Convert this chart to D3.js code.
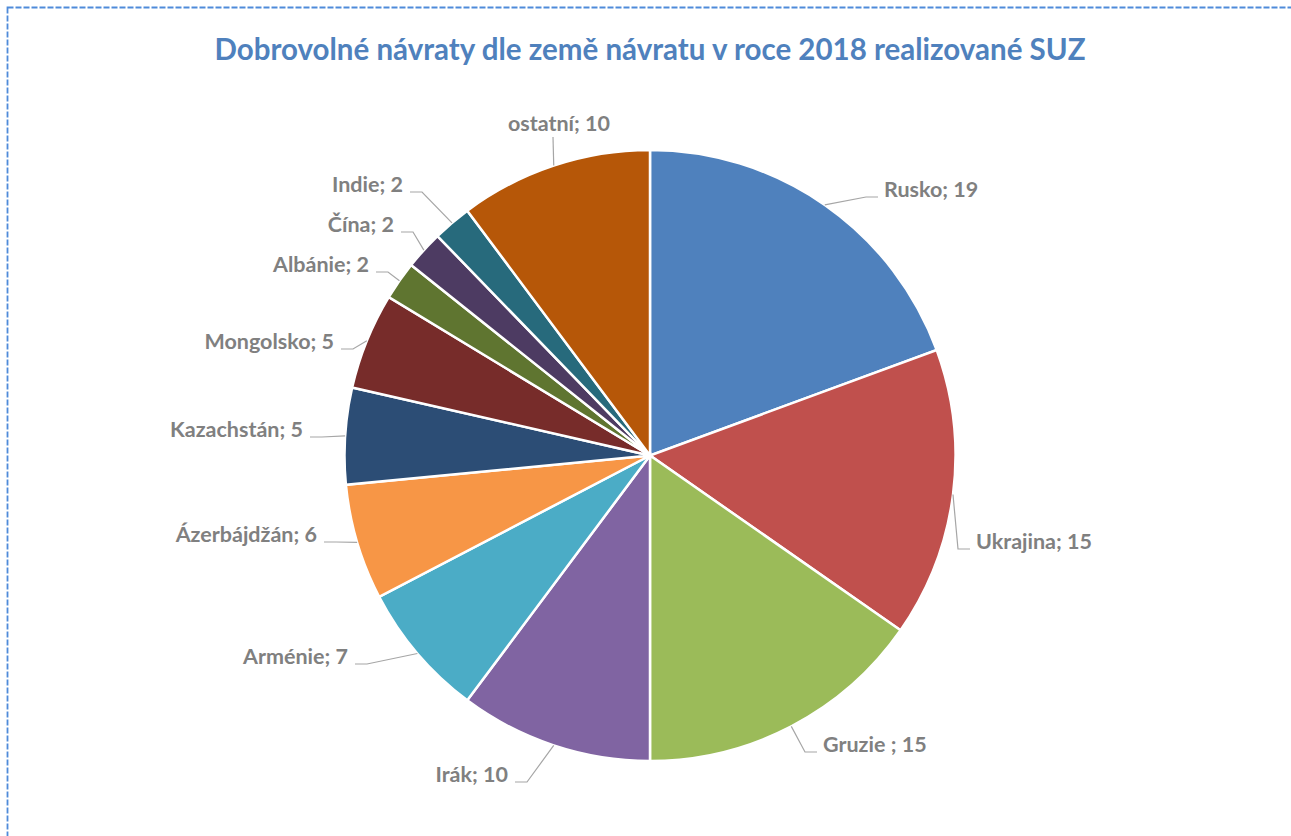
<script src="https://d3js.org/d3.v7.min.js"></script>

<style>
    body { margin: 0; background: #fff; }
    text { font-family: Lato, "Open Sans", sans-serif; font-weight: bold; }
</style>

<svg id="vis"></svg>

<script>
    // Data
    var countries = ["Rusko", "Ukrajina", "Gruzie ", "Irák", "Arménie", "Ázerbájdžán",
                     "Kazachstán", "Mongolsko", "Albánie", "Čína", "Indie", "ostatní"];
    var returns = [19, 15, 15, 10, 7, 6, 5, 5, 2, 2, 2, 10];
    var sliceColors = ["#4F81BD", "#C0504D", "#9BBB59", "#8064A2", "#4BACC6", "#F79646",
                       "#2C4D75", "#772C2A", "#5F7530", "#4D3B62", "#276A7C", "#B65708"];

    // Where each data label sits (layout only, text anchor + baseline)
    var labelPos = [[884, 197], [976, 549], [823, 752], [508, 782], [348, 664], [317, 542],
                    [303, 437], [334, 349], [369, 272], [394, 232], [403, 192], [559, 131]];
    var labelAnchor = ["start", "start", "start", "end", "end", "end",
                       "end", "end", "end", "end", "end", "middle"];

    var width = 1291, height = 836;
    var cx = 650, cy = 455.5, radius = 305.5;

    var svg = d3.select("#vis")
        .attr("width", width)
        .attr("height", height)

    // dashed frame round the chart area (runs off right and bottom)
    svg.append("rect")
        .attr("x", 7.5)
        .attr("y", 7.5)
        .attr("width", width + 20)
        .attr("height", height + 20)
        .attr("fill", "none")
        .attr("stroke", "#4F8BDA")
        .attr("stroke-width", 1.8)
        .attr("stroke-dasharray", "6,2")

    // Title
    svg.append("text")
        .attr("x", 650)
        .attr("y", 60)
        .attr("text-anchor", "middle")
        .attr("fill", "#4F81BD")
        .style("font-size", "29.5px")
        .text("Dobrovolné návraty dle země návratu v roce 2018 realizované SUZ")

    var pie = d3.pie().sort(null).value(function(d) { return d })
    var arcs = pie(returns)

    var arc = d3.arc().innerRadius(0).outerRadius(radius)

    var g = svg.append("g")
        .attr("transform", "translate(" + cx + "," + cy + ")")

    g.selectAll("path")
        .data(arcs)
        .enter()
        .append("path")
        .attr("d", arc)
        .attr("fill", function(d, i) { return sliceColors[i] })
        .attr("stroke", "#fff")
        .attr("stroke-width", 2.5)

    // Leader lines: edge midpoint -> elbow -> short horizontal to the label
    var edgePoint = function(d) {
        var a = (d.startAngle + d.endAngle) / 2
        return [cx + radius * Math.sin(a), cy - radius * Math.cos(a)]
    }

    var leaderPoints = function(d, i) {
        var p = labelPos[i], e = edgePoint(d)
        if (labelAnchor[i] === "middle") return [[p[0] - 6, p[1] + 6], e]
        if (labelAnchor[i] === "start") return [[p[0] - 6, p[1]], [p[0] - 18, p[1]], e]
        return [[p[0] + 7, p[1]], [p[0] + 19, p[1]], e]
    }

    svg.append("g")
        .selectAll("path")
        .data(arcs)
        .enter()
        .append("path")
        .attr("d", function(d, i) { return d3.line()(leaderPoints(d, i)) })
        .attr("fill", "none")
        .attr("stroke", "#A6A6A6")
        .attr("stroke-width", 1.2)

    // Data labels "name; value"
    svg.append("g")
        .selectAll("text")
        .data(arcs)
        .enter()
        .append("text")
        .attr("x", function(d, i) { return labelPos[i][0] })
        .attr("y", function(d, i) { return labelPos[i][1] })
        .attr("text-anchor", function(d, i) { return labelAnchor[i] })
        .attr("fill", "#808080")
        .style("font-size", "21.5px")
        .text(function(d, i) { return countries[i] + "; " + d.data })

</script>
